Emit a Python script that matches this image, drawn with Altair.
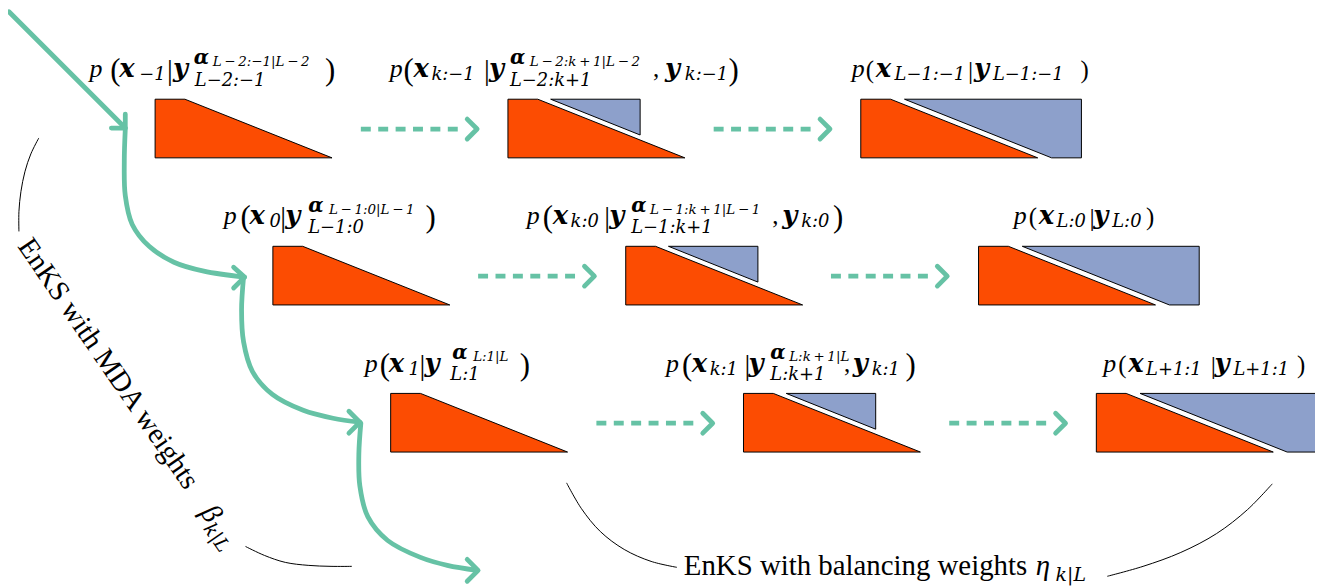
import re
import altair as alt
import pandas as pd

ORANGE = "#FC4C02"
BLUE = "#8DA0CB"
GREEN = "#66C2A5"
T = "\u2009"

# ---------------- panels (top-left corner of each orange block) ----------------
panel_x = [[156, 511, 866], [274.5, 629.5, 984.5], [393, 748, 1103]]
panel_y = [98, 246, 394]
orange_tpl_x = [0, 30, 178, 0, 0]
orange_tpl_y = [0, 0, 59, 59, 0]
blue_tri_x = [43, 133, 133, 43]
blue_tri_y = [0, 0, 36, 0]
blue_quad_x = [44, 222, 222, 192, 44]
blue_quad_y = [0, 0, 59, 59, 0]

# ---------------- green solid curves ----------------
curves = {
    "c0": [(9, 10), (126, 127)],
    "c1": [(126, 128), (125, 160), (126, 195), (133, 224), (150, 246), (175, 262), (205, 271), (246, 277)],
    "c2": [(245, 277), (243, 310), (245, 342), (254, 372), (274, 395), (305, 411), (335, 419), (362, 423)],
    "c3": [(363, 424), (361, 455), (362, 487), (370, 518), (390, 542), (423, 559), (450, 567), (480, 572)],
}
chevrons = {
    "h0": [(112, 127), (126, 127), (126, 113)],
    "h1": [(235, 267), (246, 277), (235, 288)],
    "h2": [(351, 412), (362, 423), (351, 434)],
    "h3": [(470, 561), (481, 572), (470, 583)],
}
# dashed arrows: (x start, x end of dashes, tip x, y)
dash_rows = [
    (363, 468, 480, 128), (718, 823, 835, 128),
    (481, 586, 598, 276), (836, 941, 953, 276),
    (600, 705, 717, 424), (955, 1060, 1072, 424),
]
# black arcs
arcs = {
    "a1": [(39, 137), (31, 153), (25, 171), (21, 191), (19, 211), (19, 231)],
    "a2": [(247, 548), (266, 557), (287, 564), (310, 567), (333, 568), (354, 568)],
    "a3": [(570, 484), (585, 510), (604, 533), (628, 551), (655, 563), (681, 569)],
    "a4": [(1114, 578), (1150, 568), (1188, 554), (1224, 535), (1255, 511), (1280, 485)],
}

# ---------------- labels: row -> list of fragments (text, x, kind) ----------------
labels = [
    (0, [("p", 90, "it"), ("(", 111, "par"), ("x", 120, "bf"), ("−1", 140, "sub"), ("|", 168, "bar"),
         ("y", 174, "bf"), ("α", 195, "alpha"), ("L−2:−1|L−2", 214, "ss"), ("L−2:−1", 196, "subl"),
         (")", 327, "par")]),
    (0, [("p", 392, "it"), ("(", 406, "par"), ("x", 416, "bf"), ("k:−1", 434, "sub"), ("|", 487, "bar"),
         ("y", 492, "bf"), ("α", 513, "alpha"), ("L−2:k+1|L−2", 533, "ss"), ("L−2:k+1", 513, "subl"),
         (",", 657, "rm"), ("y", 669, "bf"), ("k:−1", 689, "sub"), (")", 733, "par")]),
    (0, [("p", 857, "it"), ("(", 871, "pars"), ("x", 881, "bf"), ("L−1:−1", 900, "sub"), ("|", 974, "bars"),
         ("y", 980, "bf"), ("L−1:−1", 999, "sub"), (")", 1087, "pars")]),
    (1, [("p", 225, "it"), ("(", 242, "par"), ("x", 251, "bf"), ("0", 271, "sub"), ("|", 282, "bar"),
         ("y", 287, "bf"), ("α", 310, "alpha"), ("L−1:0|L−1", 331, "ss"), ("L−1:0", 310, "subl"),
         (")", 428, "par")]),
    (1, [("p", 530, "it"), ("(", 546, "par"), ("x", 556, "bf"), ("k:0", 574, "sub"), ("|", 608, "bar"),
         ("y", 613, "bf"), ("α", 635, "alpha"), ("L−1:k+1|L−1", 654, "ss"), ("L−1:k+1", 635, "subl"),
         (",", 777, "rm"), ("y", 787, "bf"), ("k:0", 806, "sub"), (")", 838, "par")]),
    (1, [("p", 1020, "it"), ("(", 1035, "pars"), ("x", 1045, "bf"), ("L:0", 1063, "sub"), ("|", 1096, "bars"),
         ("y", 1100, "bf"), ("L:0", 1119, "sub"), (")", 1153, "pars")]),
    (2, [("p", 367, "it"), ("(", 382, "par"), ("x", 391, "bf"), ("1", 411, "sub"), ("|", 422, "bar"),
         ("y", 427, "bf"), ("α", 455, "alpha"), ("L:1|L", 476, "ss"), ("L:1", 453, "subl"),
         (")", 523, "par")]),
    (2, [("p", 670, "it"), ("(", 686, "par"), ("x", 696, "bf"), ("k:1", 714, "sub"), ("|", 749, "bar"),
         ("y", 753, "bf"), ("α", 775, "alpha"), ("L:k+1|L", 794, "ss"), ("L:k+1", 775, "subl"),
         (",", 849, "rm"), ("y", 858, "bf"), ("k:1", 877, "sub"), (")", 911, "par")]),
    (2, [("p", 1110, "it"), ("(", 1125, "pars"), ("x", 1135, "bf"), ("L+1:1", 1153, "sub"), ("|", 1218, "bars"),
         ("y", 1222, "bf"), ("L+1:1", 1241, "sub"), (")", 1305, "pars")]),
]
row_baseline = [76, 224, 372]

bottom_text = [("EnKS with balancing weights", 688, 577, "rm", 29),
               ("η", 1042, 577, "it", 29),
               ("k|L", 1062, 583, "dit", 19)]
side_text = [("EnKS with MDA weights", 17, 246, "rm", 29),
             ("β", 201, 514, "it", 29),
             ("k|L", 204, 530, "dit", 19)]
SIDE_ANGLE = 55.5

# kind -> (style, size, dy)
KIND = {
    "it": ("it", 26, 0), "bf": ("dbf", 26, 0), "rm": ("rm", 25, 0),
    "par": ("rm", 31, 3), "pars": ("rm", 25, 1),
    "bar": ("rm", 29, 3), "bars": ("rm", 26, 2),
    "sub": ("dit", 18, 3), "subl": ("dit", 18, 9),
    "alpha": ("dbf", 20, -13), "ss": ("dit", 13.5, -11),
}


def fmt(s, kind):
    if kind == "ss":
        return re.sub(r"(?<=[A-Za-z0-9])([−+])", T + r"\1" + T, s)
    return s


# ---------------- build tables ----------------
poly_rows = []
pid = 0
for r in range(3):
    for c in range(3):
        ox, oy = panel_x[r][c], panel_y[r]
        for i, (dx, dy) in enumerate(zip(orange_tpl_x, orange_tpl_y)):
            poly_rows.append({"pid": pid, "i": i, "x": ox + dx, "y": oy + dy, "col": "orange"})
        pid += 1
        if c > 0:
            bx, by = (blue_tri_x, blue_tri_y) if c == 1 else (blue_quad_x, blue_quad_y)
            for i, (dx, dy) in enumerate(zip(bx, by)):
                poly_rows.append({"pid": pid, "i": i, "x": ox + dx, "y": oy + dy, "col": "blue"})
            pid += 1
polys = pd.DataFrame(poly_rows)


def lines_df(d):
    rows = []
    for k, pts in d.items():
        for i, (x, y) in enumerate(pts):
            rows.append({"id": k, "i": i, "x": x, "y": y})
    return pd.DataFrame(rows)


curve_df = lines_df(curves)
chev = dict(chevrons)
dash = {}
for j, (x0, x1, tip, y) in enumerate(dash_rows):
    dash[f"d{j}"] = [(x0, y), (x1, y)]
    chev[f"dh{j}"] = [(tip - 10, y - 10), (tip, y), (tip - 10, y + 10)]
chev_df = lines_df(chev)
dash_df = lines_df(dash)
arc_df = lines_df(arcs)

frag_rows = []
for r, frs in labels:
    for text, x, kind in frs:
        style, size, dy = KIND[kind]
        frag_rows.append({"t": fmt(text, kind), "x": x, "y": row_baseline[r] + dy, "style": style, "size": size})
for text, x, y, style, size in bottom_text:
    frag_rows.append({"t": text, "x": x, "y": y, "style": style, "size": size})
frags = pd.DataFrame(frag_rows)
side = pd.DataFrame([{"t": t, "x": x, "y": y, "style": s, "size": z} for t, x, y, s, z in side_text])

# ---------------- chart ----------------
xs = alt.Scale(domain=[8, 1323], nice=False, zero=False)
ys = alt.Scale(domain=[8, 586], reverse=True, nice=False, zero=False)
X = alt.X("x:Q", scale=xs, axis=None)
Y = alt.Y("y:Q", scale=ys, axis=None)


def poly_layer(colname, color):
    return alt.Chart(polys).transform_filter(alt.datum.col == colname).mark_line(
        fill=color, stroke="black", strokeWidth=1, strokeJoin="miter"
    ).encode(x=X, y=Y, detail="pid:N", order="i:Q")


orange_layer = poly_layer("orange", ORANGE)
blue_layer = poly_layer("blue", BLUE)

curve_layer = alt.Chart(curve_df).mark_line(
    interpolate="catmull-rom", color=GREEN, strokeWidth=4.8, strokeCap="round"
).encode(x=X, y=Y, detail="id:N", order="i:Q")

chev_layer = alt.Chart(chev_df).mark_line(
    color=GREEN, strokeWidth=4.8, strokeCap="round", strokeJoin="round"
).encode(x=X, y=Y, detail="id:N", order="i:Q")

dash_layer = alt.Chart(dash_df).mark_line(
    color=GREEN, strokeWidth=4.8, strokeDash=[10, 7.5], strokeCap="butt"
).encode(x=X, y=Y, detail="id:N", order="i:Q")

arc_layer = alt.Chart(arc_df).mark_line(
    interpolate="catmull-rom", color="black", strokeWidth=1
).encode(x=X, y=Y, detail="id:N", order="i:Q")

STYLE = {
    "it": ("Liberation Serif", "italic", "normal"),
    "rm": ("Liberation Serif", "normal", "normal"),
    "dit": ("DejaVu Serif", "italic", "normal"),
    "dbf": ("DejaVu Serif", "italic", "bold"),
}


def text_layer(df, style, angle=0):
    font, fs, fw = STYLE[style]
    return alt.Chart(df).transform_filter(alt.datum.style == style).mark_text(
        font=font, fontStyle=fs, fontWeight=fw, align="left", baseline="alphabetic",
        color="black", angle=angle
    ).encode(x=X, y=Y, text="t:N", size=alt.Size("size:Q", scale=None))


text_layers = [text_layer(frags, s) for s in ("it", "rm", "dit", "dbf")]
side_layers = [text_layer(side, s, SIDE_ANGLE) for s in ("it", "rm", "dit")]

chart = alt.layer(
    arc_layer, orange_layer, blue_layer, dash_layer, curve_layer, chev_layer,
    *text_layers, *side_layers
).properties(width=1315, height=578, padding=0, autosize="none", background="white"
).configure_view(stroke=None)

chart.save("out.html", embed_options={"renderer": "svg", "actions": False})
